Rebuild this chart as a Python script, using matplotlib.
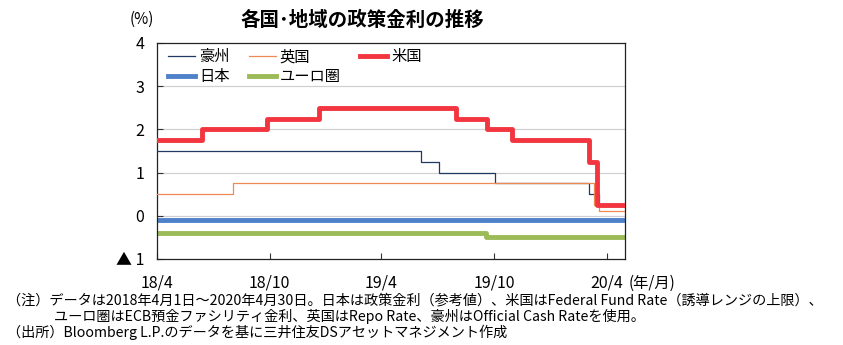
import matplotlib
matplotlib.use('Agg')
import matplotlib.pyplot as plt
import pandas as pd

plt.rcParams['font.family'] = ['Noto Sans CJK JP', 'DejaVu Sans']

# 政策金利（変更日と水準）
aus_dates = ['2018-04-01', '2019-06-05', '2019-07-03', '2019-10-02', '2020-03-04', '2020-03-20', '2020-04-30']
aus_rate = [1.50, 1.25, 1.00, 0.75, 0.50, 0.25, 0.25]

uk_dates = ['2018-04-01', '2018-08-02', '2020-03-11', '2020-03-19', '2020-04-30']
uk_rate = [0.50, 0.75, 0.25, 0.10, 0.10]

us_dates = ['2018-04-01', '2018-06-14', '2018-09-27', '2018-12-20', '2019-08-01',
            '2019-09-19', '2019-10-31', '2020-03-04', '2020-03-16', '2020-04-30']
us_rate = [1.75, 2.00, 2.25, 2.50, 2.25, 2.00, 1.75, 1.25, 0.25, 0.25]

jp_dates = ['2018-04-01', '2020-04-30']
jp_rate = [-0.10, -0.10]

eu_dates = ['2018-04-01', '2019-09-18', '2020-04-30']
eu_rate = [-0.40, -0.50, -0.50]

xtick_dates = ['2018-04-01', '2018-10-01', '2019-04-01', '2019-10-01', '2020-04-01']
xtick_labels = ['18/4', '18/10', '19/4', '19/10', '20/4']
ytick_vals = [-1, 0, 1, 2, 3, 4]
ytick_labels = ['▲ 1', '0', '1', '2', '3', '4']

fig = plt.figure(figsize=(8.43, 3.45), dpi=100)
ax = fig.add_axes([0.1862, 0.2493, 0.5552, 0.6261])

ax.plot(pd.to_datetime(aus_dates), aus_rate, drawstyle='steps-post', color='#1f3a60', lw=0.9, label='豪州', zorder=3)
ax.plot(pd.to_datetime(jp_dates), jp_rate, drawstyle='steps-post', color='#4f81c8', lw=3.5, label='日本', zorder=2)
ax.plot(pd.to_datetime(uk_dates), uk_rate, drawstyle='steps-post', color='#ef8a55', lw=0.9, label='英国', zorder=3)
ax.plot(pd.to_datetime(eu_dates), eu_rate, drawstyle='steps-post', color='#9bbb59', lw=3.5, label='ユーロ圏', zorder=2)
ax.plot(pd.to_datetime(us_dates), us_rate, drawstyle='steps-post', color='#f2353f', lw=3.5, label='米国', zorder=4)

ax.set_xlim(pd.Timestamp('2018-04-01'), pd.Timestamp('2020-05-01'))
ax.set_ylim(-1, 4)
ax.set_xticks(pd.to_datetime(xtick_dates))
ax.set_xticklabels(xtick_labels, fontsize=11.5)
ax.set_yticks(ytick_vals)
ax.set_yticklabels(ytick_labels, fontsize=11.5)
ax.tick_params(direction='in', length=4, width=0.8, color='#333333')
ax.tick_params(axis='x', pad=11)
ax.tick_params(axis='y', pad=9)

for y in [0, 1, 2, 3]:
    ax.axhline(y, color='#d0d0d0', lw=0.9, zorder=1)
for s in ax.spines.values():
    s.set_color('#222222')
    s.set_linewidth(0.9)

ax.legend(loc='upper left', bbox_to_anchor=(0.0, 1.025), ncol=3, frameon=False,
          fontsize=11, handlelength=1.8, handletextpad=0.25, columnspacing=1.25,
          labelspacing=0.2, borderaxespad=0.3)

fig.text(0.43, 0.94, '各国･地域の政策金利の推移', fontsize=14, fontweight='bold', ha='center', va='center')
fig.text(0.168, 0.945, '(%)', fontsize=11, ha='center', va='center')
fig.text(0.773, 0.178, '(年/月)', fontsize=11, ha='center', va='center')

fig.text(0.008, 0.13, '（注）データは2018年4月1日～2020年4月30日。日本は政策金利（参考値）、米国はFederal Fund Rate（誘導レンジの上限）、',
         fontsize=10.2, ha='left', va='center')
fig.text(0.064, 0.083, 'ユーロ圏はECB預金ファシリティ金利、英国はRepo Rate、豪州はOfficial Cash Rateを使用。',
         fontsize=10.2, ha='left', va='center')
fig.text(0.008, 0.036, '（出所）Bloomberg L.P.のデータを基に三井住友DSアセットマネジメント作成',
         fontsize=10.2, ha='left', va='center')

fig.savefig('out.png', dpi=100)
